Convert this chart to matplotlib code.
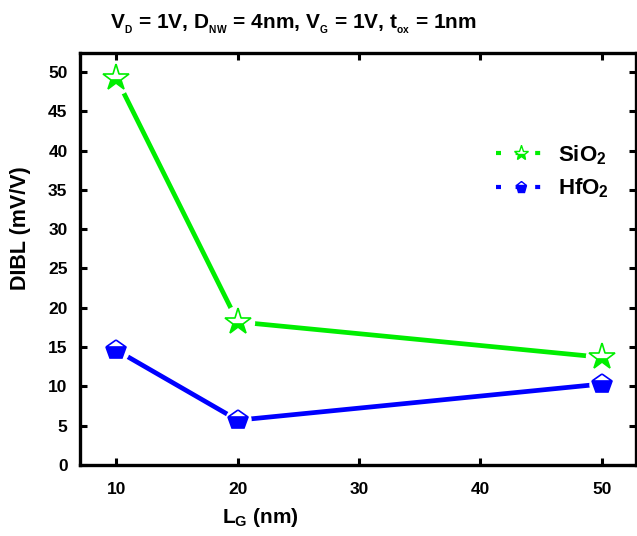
import matplotlib
matplotlib.use("Agg")
import matplotlib.pyplot as plt
from matplotlib.lines import Line2D

plt.rcParams['font.family'] = ['Liberation Sans', 'DejaVu Sans']
plt.rcParams['font.weight'] = 'bold'
plt.rcParams['mathtext.fontset'] = 'custom'
plt.rcParams['mathtext.rm'] = 'Liberation Sans:bold'
plt.rcParams['mathtext.bf'] = 'Liberation Sans:bold'
plt.rcParams['mathtext.it'] = 'Liberation Sans:bold'

lg = [10, 20, 50]
sio2 = [49.2, 18.2, 13.7]
hfo2 = [14.6, 5.7, 10.3]
xticks = [10, 20, 30, 40, 50]
yticks = [0, 5, 10, 15, 20, 25, 30, 35, 40, 45, 50]

fig = plt.figure(figsize=(6.37, 5.36), dpi=100)
ax = fig.add_axes([0.1256, 0.1325, 0.8724, 0.7685])

series = [(sio2, '#00ee00', '*', 20, r'SiO$_2$'), (hfo2, '#0000ff', 'p', 15, r'HfO$_2$')]
handles = []
for vals, col, mk, ms, lab in series:
    ax.plot(lg, vals, '-', color=col, lw=3.4, zorder=2)
    ax.plot(lg, vals, linestyle='none', marker='o', ms=ms + 4, mfc='white', mec='white', mew=0, zorder=3)
    ax.plot(lg, vals, linestyle='none', marker=mk, ms=ms, color=col, fillstyle='bottom',
            mfc=col, mfcalt='white', mec=col, mew=1.2, zorder=4)
    handles.append(Line2D([0], [0], color=col, lw=3, ls=(0, (1.2, 3.5)), marker=mk, ms=ms * 0.55,
                          fillstyle='bottom', mfc=col, mfcalt='white', mec=col, mew=1, label=lab))

ax.set_xlim(7, 52.8)
ax.set_ylim(0, 52.4)
ax.set_xticks(xticks)
ax.set_yticks(yticks)
ax.tick_params(direction='in', length=5, width=2.2, top=True, right=True, labelsize=12.5)
ax.tick_params(axis='x', pad=12)
ax.tick_params(axis='y', pad=9)
for lab in ax.get_xticklabels() + ax.get_yticklabels():
    lab.set_fontweight('bold')
for s in ax.spines.values():
    s.set_linewidth(2.4)

ax.set_xlabel(r'L$_\mathbf{G}$ (nm)', fontsize=15, fontweight='bold')
ax.xaxis.set_label_coords((261 - 80) / 556, (465 - 506) / 412)
ax.set_ylabel('DIBL (mV/V)', fontsize=15.5, fontweight='bold')
ax.yaxis.set_label_coords((31 - 80) / 556, (465 - 228) / 412)
fig.text(293 / 637, 1 - 24 / 536,
         r'V$_{_D}$ = 1V, D$_{_{NW}}$ = 4nm, V$_{_G}$ = 1V, t$_{_{ox}}$ = 1nm',
         fontsize=15, fontweight='bold', ha='center', va='center')

leg = ax.legend(handles=handles, loc='upper left', bbox_to_anchor=((476 - 80) / 556, (465 - 123) / 412),
                frameon=False, fontsize=16, handlelength=2.3, handletextpad=0.5, labelspacing=0.45)

fig.savefig('out.png', dpi=100)
